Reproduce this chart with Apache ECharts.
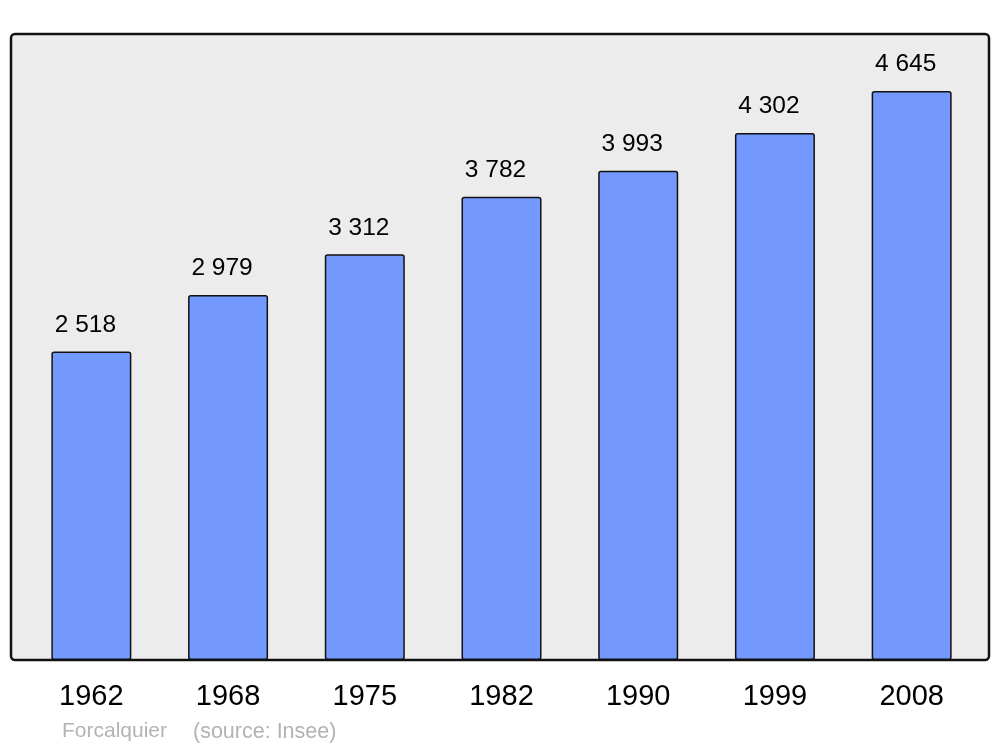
<!DOCTYPE html>
<html>
<head>
<meta charset="utf-8">
<script src="https://cdn.jsdelivr.net/npm/echarts@6/dist/echarts.min.js"></script>
<style>html,body{margin:0;padding:0;background:#fff;}#c{width:1000px;height:747px;}</style>
</head>
<body>
<div id="c"></div>
<script>
const years = ['1962', '1968', '1975', '1982', '1990', '1999', '2008'];
const population = [2518, 2979, 3312, 3782, 3993, 4302, 4645];
const footerName = 'Forcalquier';
const footerSource = '(source: Insee)';

function fmt(v) { return String(v).replace(/\B(?=(\d{3})+(?!\d))/g, ' '); }

const chart = echarts.init(document.getElementById('c'), null, {renderer: 'canvas'});
chart.setOption({
  animation: false,
  backgroundColor: '#ffffff',
  textStyle: {fontFamily: 'Liberation Sans, Arial, sans-serif'},
  graphic: [
    {type: 'rect', z: -10, shape: {x: 11, y: 34, width: 978, height: 626, r: 4},
     style: {fill: '#ececec', stroke: '#111111', lineWidth: 2.5}},
    {type: 'text', left: 62, top: 721, style: {text: footerName, fill: '#b3b3b3', font: '21px "Liberation Sans", Arial, sans-serif'}},
    {type: 'text', left: 193, top: 721, style: {text: footerSource, fill: '#b3b3b3', font: '21.5px "Liberation Sans", Arial, sans-serif'}}
  ],
  grid: {left: 23, right: 20, top: 34, bottom: 87, containLabel: false},
  xAxis: {
    type: 'category', data: years,
    axisLine: {show: false}, axisTick: {show: false},
    axisLabel: {color: '#000', fontSize: 29, margin: 22, fontFamily: 'Liberation Sans, Arial, sans-serif'}
  },
  yAxis: {type: 'value', min: 0, max: 5110, show: false, splitLine: {show: false}},
  series: [{
    type: 'bar', data: population, barWidth: 80, z: 5,
    itemStyle: {color: '#7399ff', borderColor: '#111111', borderWidth: 1.5, borderRadius: 2},
    label: {show: true, position: 'top', distance: 14, offset: [-6, 0], color: '#000', fontSize: 24.5,
      fontFamily: 'Liberation Sans, Arial, sans-serif',
      formatter: p => fmt(p.value)}
  }]
});
</script>
</body>
</html>
